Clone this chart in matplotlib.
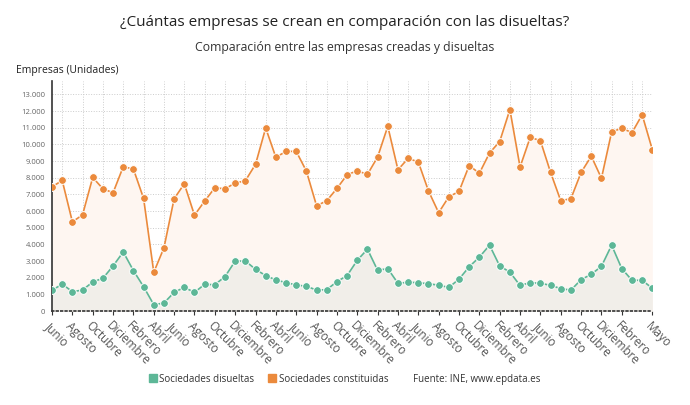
import numpy as np
import matplotlib.pyplot as plt
from matplotlib.lines import Line2D
from matplotlib.ticker import FuncFormatter

plt.rcParams['font.family'] = ['Open Sans', 'DejaVu Sans']

# meses desde junio 2019 hasta mayo 2024
meses = ['Junio', 'Julio', 'Agosto', 'Septiembre', 'Octubre', 'Noviembre',
         'Diciembre', 'Enero', 'Febrero', 'Marzo', 'Abril', 'Mayo'] * 5

constituidas = [7450, 7835, 5350, 5770, 8015, 7335, 7095, 8660, 8515, 6755,
                2325, 3790, 6735, 7635, 5750, 6595, 7395, 7335, 7675, 7815,
                8800, 10980, 9220, 9580, 9580, 8395, 6315, 6615, 7355, 8175,
                8415, 8195, 9240, 11080, 8475, 9160, 8940, 7205, 5900, 6855,
                7175, 8730, 8265, 9480, 10170, 12085, 8640, 10420, 10220, 8315,
                6615, 6745, 8315, 9290, 7965, 10740, 10970, 10700, 11775, 9680]

disueltas = [1240, 1620, 1160, 1260, 1745, 1965, 2705, 3545, 2425, 1460,
             380, 480, 1120, 1420, 1120, 1600, 1580, 2065, 2995, 3005,
             2505, 2125, 1865, 1705, 1565, 1485, 1260, 1280, 1765, 2125,
             3045, 3710, 2445, 2545, 1665, 1725, 1705, 1635, 1555, 1415,
             1915, 2655, 3235, 3950, 2705, 2335, 1535, 1705, 1665, 1545,
             1345, 1255, 1885, 2205, 2685, 3950, 2545, 1845, 1845, 1365]

naranja = '#eb8a3c'
verde = '#5db797'

x = np.arange(len(constituidas))

fig = plt.figure(figsize=(6.9, 4.05), dpi=100)
ax = fig.add_axes([0.0754, 0.232, 0.87, 0.568])

ax.fill_between(x, constituidas, 0, color='#fef6f1', lw=0, zorder=1)
ax.fill_between(x, disueltas, 0, color='#f1eee9', lw=0, zorder=1.5)

ax.plot(x, constituidas, color=naranja, lw=1.2, marker='o', ms=5.6,
        mfc=naranja, mec='white', mew=0.7, zorder=3)
ax.plot(x, disueltas, color=verde, lw=1.2, marker='o', ms=5.6,
        mfc=verde, mec='white', mew=0.7, zorder=3)

ax.set_xlim(0, len(x) - 1)
ax.set_ylim(0, 13800)
ax.set_yticks(range(0, 13001, 1000))
ax.yaxis.set_major_formatter(FuncFormatter(lambda v, p: f'{int(v):,}'.replace(',', '.')))

ticks = list(range(0, 57, 2)) + [59]
ax.set_xticks(ticks)
ax.set_xticklabels([meses[i] for i in ticks], rotation=-45, ha='left',
                   rotation_mode='anchor', fontsize=8.5, color='#555555')
ax.set_xticks(x, minor=True)
ax.tick_params(axis='x', which='minor', length=0)
ax.tick_params(axis='x', which='major', length=3, color='#333333', pad=3)
ax.tick_params(axis='y', length=0, labelsize=5.5, labelcolor='#666666', pad=5)

ax.grid(True, which='minor', axis='x', color='#cccccc', ls=':', lw=0.7)
ax.grid(True, which='major', axis='y', color='#cccccc', ls=':', lw=0.7)
ax.set_axisbelow(True)

for s in ['top', 'right']:
    ax.spines[s].set_visible(False)
ax.spines['left'].set_color('#333333')
ax.spines['left'].set_linewidth(1.2)
ax.spines['bottom'].set_color('#333333')
ax.spines['bottom'].set_linestyle(':')
ax.spines['bottom'].set_linewidth(1.2)

fig.text(0.5, 0.945, '¿Cuántas empresas se crean en comparación con las disueltas?',
         ha='center', va='center', fontsize=11, color='#222222')
fig.text(0.5, 0.883, 'Comparación entre las empresas creadas y disueltas',
         ha='center', va='center', fontsize=8.8, color='#333333')
fig.text(0.023, 0.827, 'Empresas (Unidades)', ha='left', va='center',
         fontsize=7.5, color='#222222')

handles = [Line2D([], [], ls='none', marker='s', ms=5.5, color=verde),
           Line2D([], [], ls='none', marker='s', ms=5.5, color=naranja),
           Line2D([], [], ls='none')]
labels = ['Sociedades disueltas', 'Sociedades constituidas', 'Fuente: INE, www.epdata.es']
fig.legend(handles, labels, loc='center', bbox_to_anchor=(0.5, 0.064), ncol=3,
           frameon=False, fontsize=7, handlelength=0.6, handletextpad=0.4,
           columnspacing=1.5, labelcolor='#333333')

fig.savefig('out.png', dpi=100)
